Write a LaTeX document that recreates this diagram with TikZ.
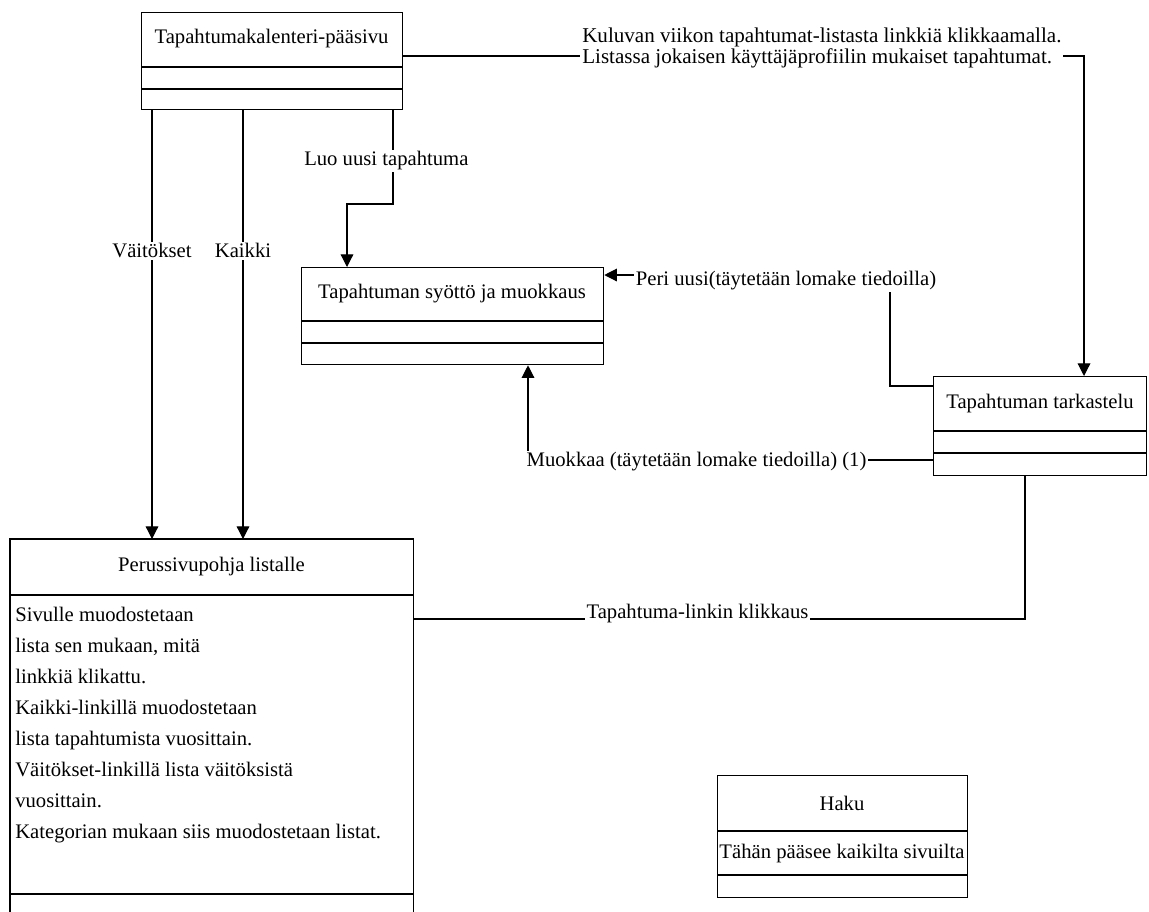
\documentclass[tikz,border=0pt]{standalone}
\usepackage{fontspec}
\setmainfont{Liberation Serif}
\usetikzlibrary{arrows.meta,calc}
\begin{document}
\begin{tikzpicture}[x=0.75pt,y=-0.75pt,
  every node/.style={font=\fontsize{15.5}{18}\selectfont},
  box/.style={draw,line width=0.95pt,inner sep=0,anchor=north west},
  openbox/.style={inner sep=0,anchor=north west},
  part/.style={line width=0.95pt},
  conn/.style={line width=0.9pt},
  arr/.style={conn,-{Triangle[length=9.5pt,width=9.5pt]}},
  lbl/.style={fill=white,inner sep=1.5pt},
  ttl/.style={inner sep=0}]
\fill[white] (0,0) rectangle (1149,911);
\useasboundingbox (0,0) rectangle (1149,911);

% Box A
\node[box,minimum width={261*0.75pt},minimum height={97*0.75pt}] (A) at (141,12) {};
\node[ttl] (At) at (271.5,39) {Tapahtumakalenteri-pääsivu};
\draw[part] ($(A.north west)+(0,55)$) -- ($(A.north east)+(0,55)$);
\draw[part] ($(A.north west)+(0,77)$) -- ($(A.north east)+(0,77)$);

% Box B
\node[box,minimum width={302*0.75pt},minimum height={97*0.75pt}] (B) at (301,267) {};
\node[ttl] (Bt) at (452,294) {Tapahtuman syöttö ja muokkaus};
\draw[part] ($(B.north west)+(0,54)$) -- ($(B.north east)+(0,54)$);
\draw[part] ($(B.north west)+(0,76)$) -- ($(B.north east)+(0,76)$);

% Box D
\node[box,minimum width={213*0.75pt},minimum height={99*0.75pt}] (D) at (933,376) {};
\node[ttl] (Dt) at (1040,404) {Tapahtuman tarkastelu};
\draw[part] ($(D.north west)+(0,55)$) -- ($(D.north east)+(0,55)$);
\draw[part] ($(D.north west)+(0,77)$) -- ($(D.north east)+(0,77)$);

% Box C (cut off at the bottom)
\node[openbox,minimum width={403*0.75pt},minimum height={372*0.75pt}] (C) at (10,539) {};
\draw[part] (C.south west) -- (C.north west) -- (C.north east) -- (C.south east);
\node[ttl] (Ct) at (211.5,567) {Perussivupohja listalle};
\draw[part] ($(C.north west)+(0,56)$) -- ($(C.north east)+(0,56)$);
\draw[part] ($(C.north west)+(0,355)$) -- ($(C.north east)+(0,355)$);
\node[ttl,anchor=north west,align=left,font=\fontsize{15.5}{23.25}\selectfont] (Cb) at (15,607)
 {Sivulle muodostetaan\\lista sen mukaan, mitä\\linkkiä klikattu.\\Kaikki-linkillä muodostetaan\\lista tapahtumista vuosittain.\\Väitökset-linkillä lista väitöksistä\\vuosittain.\\Kategorian mukaan siis muodostetaan listat.};

% Box E
\node[box,minimum width={250*0.75pt},minimum height={122*0.75pt}] (E) at (717,775) {};
\node[ttl] (Et) at (842,803) {Haku};
\draw[part] ($(E.north west)+(0,56)$) -- ($(E.north east)+(0,56)$);
\draw[part] ($(E.north west)+(0,100)$) -- ($(E.north east)+(0,100)$);
\node[ttl] (Eb) at (842,854) {Tähän pääsee kaikilta sivuilta};

% Connectors from A
\coordinate (v1) at ($(A.south west)+(11,0)$);
\coordinate (v2) at ($(A.south west)+(102,0)$);
\coordinate (v3) at ($(A.south west)+(252,0)$);
\coordinate (h3) at (0,204);
\coordinate (b3) at ($(B.north west)+(46,0)$);
\draw[arr] (v1) -- node[lbl,pos=0.328] {Väitökset} (v1 |- C.north);
\draw[arr] (v2) -- node[lbl,pos=0.328] {Kaikki} (v2 |- C.north);
\draw[arr] (v3) -- node[lbl,pos=0.54,xshift=-5pt] {Luo uusi tapahtuma} (v3 |- h3) -| (b3);

% A -> D
\coordinate (a1) at ($(A.north east)+(0,44)$);
\coordinate (d0) at ($(D.north west)+(151,0)$);
\draw[arr] (a1) -- (a1 -| d0) -- (d0);
\node[lbl,anchor=west,align=left,font=\fontsize{15.8}{15.75}\selectfont] (K) at (580,47.5)
 {Kuluvan viikon tapahtumat-listasta linkkiä klikkaamalla.\\Listassa jokaisen käyttäjäprofiilin mukaiset tapahtumat.};

% D -> B (Peri uusi)
\coordinate (p1) at ($(D.north west)+(0,10)$);
\coordinate (p2) at ($(B.north east)+(0,8)$);
\coordinate (px) at (890,0);
\draw[arr] (p1) -- (p1 -| px) -- (px |- p2) -- (p2);
\node[lbl] (P) at (786,281) {Peri uusi(täytetään lomake tiedoilla)};

% D -> B (Muokkaa)
\coordinate (m1) at ($(D.north west)+(0,84)$);
\coordinate (mx) at ($(B.south west)+(227,0)$);
\draw[arr] (m1) -- (m1 -| mx) -- (mx |- B.south);
\node[lbl] (M) at (696.5,462) {Muokkaa (täytetään lomake tiedoilla) (1)};

% D -- C
\coordinate (t1) at ($(D.south west)+(92,0)$);
\coordinate (t2) at ($(C.north east)+(0,80)$);
\draw[conn] (t1) -- (t1 |- t2) -- (t2);
\node[lbl] (T) at (697.5,614) {Tapahtuma-linkin klikkaus};
\end{tikzpicture}
\end{document}
